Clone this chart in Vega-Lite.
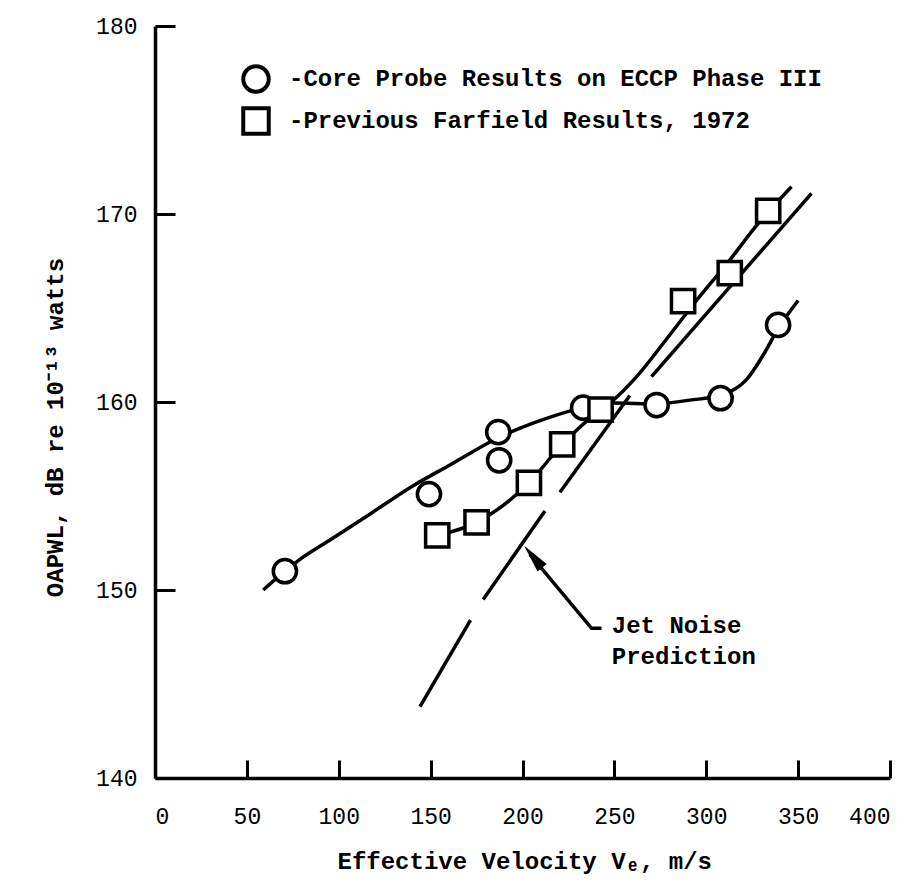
{
  "$schema": "https://vega.github.io/schema/vega-lite/v6.json",
  "width": 735,
  "height": 752,
  "autosize": {"type": "none"},
  "padding": {"left": 155, "top": 26, "right": 32, "bottom": 109},
  "background": "white",
  "config": {
    "view": {"stroke": null},
    "axis": {
      "grid": false,
      "domainColor": "black",
      "domainWidth": 3.5,
      "tickColor": "black",
      "tickWidth": 3,
      "labelColor": "black",
      "labelFont": "Liberation Mono",
      "labelFontSize": 23,
      "titleColor": "black",
      "titleFont": "Liberation Mono",
      "titleFontWeight": "bold",
      "titleFontSize": 24
    }
  },
  "datasets": {
    "smooth": [
      {"curve": "core", "v": 58.9, "oapwl": 150.0},
      {"curve": "core", "v": 70.7, "oapwl": 151.0},
      {"curve": "core", "v": 77.1, "oapwl": 151.5},
      {"curve": "core", "v": 95.2, "oapwl": 152.66},
      {"curve": "core", "v": 113.3, "oapwl": 153.8},
      {"curve": "core", "v": 140.5, "oapwl": 155.55},
      {"curve": "core", "v": 160.5, "oapwl": 156.65},
      {"curve": "core", "v": 186.8, "oapwl": 158.1},
      {"curve": "core", "v": 213.1, "oapwl": 159.13},
      {"curve": "core", "v": 233.0, "oapwl": 159.7},
      {"curve": "core", "v": 249.4, "oapwl": 159.95},
      {"curve": "core", "v": 273.0, "oapwl": 159.9},
      {"curve": "core", "v": 291.0, "oapwl": 160.1},
      {"curve": "core", "v": 307.8, "oapwl": 160.35},
      {"curve": "core", "v": 322.0, "oapwl": 161.2},
      {"curve": "core", "v": 331.0, "oapwl": 162.5},
      {"curve": "core", "v": 339.1, "oapwl": 163.9},
      {"curve": "core", "v": 350.0, "oapwl": 165.4},
      {"curve": "farfield", "v": 153.6, "oapwl": 152.9},
      {"curve": "farfield", "v": 175.0, "oapwl": 153.6},
      {"curve": "farfield", "v": 203.5, "oapwl": 155.7},
      {"curve": "farfield", "v": 221.6, "oapwl": 157.75},
      {"curve": "farfield", "v": 242.5, "oapwl": 159.6},
      {"curve": "farfield", "v": 249.4, "oapwl": 160.1},
      {"curve": "farfield", "v": 262.1, "oapwl": 161.35},
      {"curve": "farfield", "v": 278.0, "oapwl": 163.3},
      {"curve": "farfield", "v": 294.7, "oapwl": 165.4},
      {"curve": "farfield", "v": 312.8, "oapwl": 167.55},
      {"curve": "farfield", "v": 327.4, "oapwl": 169.4},
      {"curve": "farfield", "v": 346.4, "oapwl": 171.45}
    ],
    "straight": [
      {"piece": "jet1", "v": 144.2, "oapwl": 143.8},
      {"piece": "jet1", "v": 171.7, "oapwl": 148.4},
      {"piece": "jet2", "v": 178.6, "oapwl": 149.5},
      {"piece": "jet2", "v": 212.2, "oapwl": 154.2},
      {"piece": "jet3", "v": 220.4, "oapwl": 155.2},
      {"piece": "jet3", "v": 258.4, "oapwl": 160.35},
      {"piece": "jet4", "v": 270.2, "oapwl": 161.35},
      {"piece": "jet4", "v": 357.3, "oapwl": 171.1},
      {"piece": "arrow", "v": 204.0, "oapwl": 151.9},
      {"piece": "arrow", "v": 237.6, "oapwl": 147.96},
      {"piece": "arrow", "v": 243.0, "oapwl": 147.96}
    ],
    "arrowhead": [
      {"v": 205.8, "oapwl": 151.77}
    ],
    "points": [
      {"series": "Core Probe Results on ECCP Phase III", "v": 70.7, "oapwl": 151.0},
      {"series": "Core Probe Results on ECCP Phase III", "v": 149.1, "oapwl": 155.1},
      {"series": "Core Probe Results on ECCP Phase III", "v": 186.8, "oapwl": 158.4},
      {"series": "Core Probe Results on ECCP Phase III", "v": 187.3, "oapwl": 156.9},
      {"series": "Core Probe Results on ECCP Phase III", "v": 233.0, "oapwl": 159.7},
      {"series": "Core Probe Results on ECCP Phase III", "v": 273.0, "oapwl": 159.84},
      {"series": "Core Probe Results on ECCP Phase III", "v": 307.8, "oapwl": 160.2},
      {"series": "Core Probe Results on ECCP Phase III", "v": 339.1, "oapwl": 164.1},
      {"series": "Previous Farfield Results, 1972", "v": 153.6, "oapwl": 152.9},
      {"series": "Previous Farfield Results, 1972", "v": 175.0, "oapwl": 153.6},
      {"series": "Previous Farfield Results, 1972", "v": 203.5, "oapwl": 155.7},
      {"series": "Previous Farfield Results, 1972", "v": 221.6, "oapwl": 157.75},
      {"series": "Previous Farfield Results, 1972", "v": 242.5, "oapwl": 159.6},
      {"series": "Previous Farfield Results, 1972", "v": 287.4, "oapwl": 165.37},
      {"series": "Previous Farfield Results, 1972", "v": 312.8, "oapwl": 166.85},
      {"series": "Previous Farfield Results, 1972", "v": 333.7, "oapwl": 170.16}
    ],
    "notes": [
      {"text": "Jet Noise", "v": 248.6, "oapwl": 147.71},
      {"text": "Prediction", "v": 248.6, "oapwl": 146.06}
    ]
  },
  "layer": [
    {
      "data": {"name": "smooth"},
      "mark": {"type": "line", "interpolate": "monotone", "color": "black", "strokeWidth": 3.5},
      "encoding": {
        "x": {
          "field": "v", "type": "quantitative",
          "scale": {"domain": [0, 400], "nice": false},
          "axis": {
            "title": "Effective Velocity Vₑ, m/s",
            "values": [0, 50, 100, 150, 200, 250, 300, 350, 400],
            "tickSize": -18,
            "labelPadding": 45,
            "labelBaseline": "top",
            "labelDx": 3,
            "titleAnchor": "start",
            "titleAlign": "left",
            "titleBaseline": "alphabetic",
            "titleX": 182,
            "titleY": 90
          }
        },
        "y": {
          "field": "oapwl", "type": "quantitative",
          "scale": {"domain": [140, 180], "nice": false, "zero": false},
          "axis": {
            "title": "OAPWL, dB re 10⁻¹³ watts",
            "values": [140, 150, 160, 170, 180],
            "tickSize": -20,
            "labelPadding": 38,
            "labelDy": -3,
            "titleAngle": -90,
            "titleAnchor": "middle",
            "titleAlign": "center",
            "titleBaseline": "alphabetic",
            "titleX": -93,
            "titleY": 401
          }
        },
        "detail": {"field": "curve"}
      }
    },
    {
      "data": {"name": "straight"},
      "mark": {"type": "line", "interpolate": "linear", "color": "black", "strokeWidth": 3.5},
      "encoding": {
        "x": {"field": "v", "type": "quantitative"},
        "y": {"field": "oapwl", "type": "quantitative"},
        "detail": {"field": "piece"}
      }
    },
    {
      "data": {"name": "arrowhead"},
      "mark": {
        "type": "point",
        "shape": "M0,-1L0.42,1L-0.42,1Z",
        "filled": true,
        "fill": "black",
        "strokeWidth": 0,
        "size": 800,
        "angle": 320.7,
        "opacity": 1
      },
      "encoding": {
        "x": {"field": "v", "type": "quantitative"},
        "y": {"field": "oapwl", "type": "quantitative"}
      }
    },
    {
      "data": {"name": "points"},
      "mark": {
        "type": "point",
        "filled": false,
        "fill": "white",
        "color": "black",
        "strokeWidth": 3.5,
        "size": 540,
        "opacity": 1
      },
      "encoding": {
        "x": {"field": "v", "type": "quantitative"},
        "y": {"field": "oapwl", "type": "quantitative"},
        "shape": {
          "field": "series", "type": "nominal",
          "scale": {
            "domain": ["Core Probe Results on ECCP Phase III", "Previous Farfield Results, 1972"],
            "range": ["circle", "square"]
          },
          "legend": {
            "title": null,
            "orient": "none",
            "legendX": 86,
            "legendY": 38,
            "padding": 0,
            "labelExpr": "'-' + datum.label",
            "labelFont": "Liberation Mono",
            "labelFontWeight": "bold",
            "labelFontSize": 24,
            "labelColor": "black",
            "labelLimit": 900,
            "labelOffset": 18,
            "rowPadding": 0,
            "symbolSize": 650,
            "symbolStrokeWidth": 4
          }
        }
      }
    },
    {
      "data": {"name": "notes"},
      "mark": {
        "type": "text",
        "align": "left",
        "baseline": "alphabetic",
        "font": "Liberation Mono",
        "fontWeight": "bold",
        "fontSize": 24,
        "color": "black"
      },
      "encoding": {
        "x": {"field": "v", "type": "quantitative"},
        "y": {"field": "oapwl", "type": "quantitative"},
        "text": {"field": "text"}
      }
    }
  ]
}
